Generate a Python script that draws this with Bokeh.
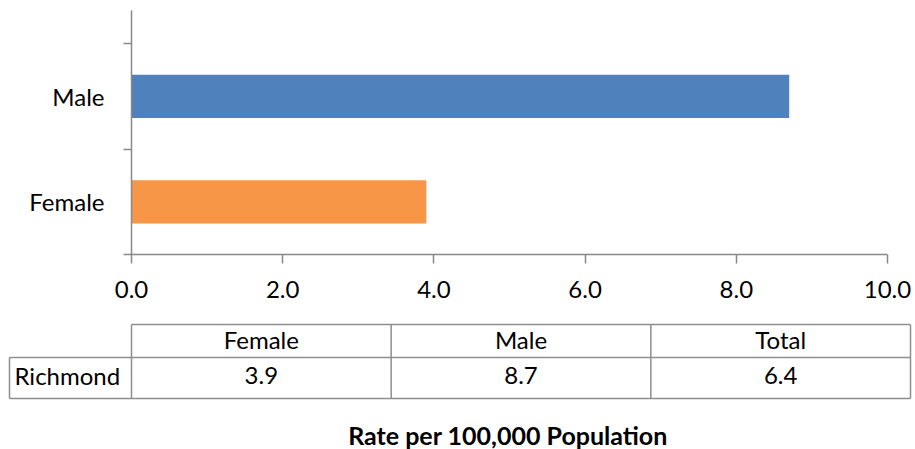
from bokeh.plotting import figure
from bokeh.models import Range1d, FixedTicker, NumeralTickFormatter, ColumnDataSource
from bokeh.layouts import column
from bokeh.embed import file_html
from bokeh.resources import INLINE
from bokeh.core.properties import value

# ---- data ----
categories = ["Female", "Male"]
rates = [3.9, 8.7]
bar_colors = ["#F79646", "#4F81BD"]
x_ticks = [0, 2, 4, 6, 8, 10]
table_columns = ["Female", "Male", "Total"]
table_row_label = "Richmond"
table_values = [3.9, 8.7, 6.4]
axis_title = "Rate per 100,000 Population"

FONT = "Lato"
GRAY = "#898989"
LINE_GRAY = "#8e8e8e"

# ---- bar chart ----
ypos = list(range(len(categories)))
src = ColumnDataSource(dict(y=ypos, right=rates, color=bar_colors))

p = figure(width=915, height=310, x_range=Range1d(0, 10), y_range=Range1d(-0.5, 1.813),
           output_backend="svg", toolbar_location=None,
           min_border_left=131, min_border_right=28, min_border_top=10, min_border_bottom=56)
p.hbar(y="y", left=0, right="right", height=0.41, color="color", line_color=None, source=src)

p.xgrid.visible = False
p.ygrid.visible = False
p.outline_line_color = None
p.background_fill_color = "white"
p.border_fill_color = "white"

p.axis.axis_line_color = GRAY
p.axis.axis_line_width = 1.5
p.axis.major_label_text_font = FONT
p.axis.major_label_text_font_size = "24px"
p.axis.major_label_text_color = "black"

p.xaxis.ticker = FixedTicker(ticks=x_ticks)
p.xaxis.formatter = NumeralTickFormatter(format="0.0")
p.xaxis.major_tick_out = 9
p.xaxis.major_tick_in = 0
p.xaxis.major_tick_line_color = GRAY
p.xaxis.major_tick_line_width = 1.5
p.xaxis.major_label_standoff = 17

p.yaxis.ticker = FixedTicker(ticks=ypos, minor_ticks=[-0.5, 0.5, 1.5])
p.yaxis.major_label_overrides = {i: c for i, c in zip(ypos, categories)}
p.yaxis.major_tick_out = 0
p.yaxis.major_tick_in = 0
p.yaxis.minor_tick_out = 8
p.yaxis.minor_tick_in = 0
p.yaxis.minor_tick_line_color = GRAY
p.yaxis.minor_tick_line_width = 1.5
p.yaxis.major_label_standoff = 19

# ---- data table below ----
t = figure(width=915, height=139, x_range=Range1d(0, 915), y_range=Range1d(139, 0),
           output_backend="svg", toolbar_location=None,
           x_axis_location=None, y_axis_location=None,
           min_border_left=0, min_border_right=0, min_border_top=0, min_border_bottom=0)
t.xgrid.visible = False
t.ygrid.visible = False
t.outline_line_color = None
t.background_fill_color = "white"
t.border_fill_color = "white"

label_left, data_left, right = 9, 131, 910
head_top, row_top, row_bottom = 14, 47, 88
ncol = len(table_columns)
colw = (right - data_left) / ncol
edges = [data_left + i * colw for i in range(ncol + 1)]

x0 = [data_left, label_left, label_left, label_left] + edges
x1 = [right, right, right, label_left] + edges
y0 = [head_top, row_top, row_bottom, row_top] + [head_top] * (ncol + 1)
y1 = [head_top, row_top, row_bottom, row_bottom] + [row_bottom] * (ncol + 1)
t.segment(x0=x0, y0=y0, x1=x1, y1=y1, line_color=LINE_GRAY, line_width=1.5)

centers = [data_left + (i + 0.5) * colw for i in range(ncol)]
t.text(x=centers, y=[28.5] * ncol, text=table_columns, text_align="center",
       text_baseline="middle", text_font=value(FONT), text_font_size="24px", text_color="black")
t.text(x=centers, y=[65] * ncol, text=[f"{v:.1f}" for v in table_values], text_align="center",
       text_baseline="middle", text_font=value(FONT), text_font_size="24px", text_color="black")
t.text(x=[14], y=[65], text=[table_row_label], text_align="left",
       text_baseline="middle", text_font=value(FONT), text_font_size="24px", text_color="black")
t.text(x=[507.5], y=[124], text=[axis_title], text_align="center",
       text_baseline="middle", text_font=value(FONT), text_font_size="25px",
       text_font_style="bold", text_color="black")

layout = column(p, column(t), spacing=0)
open("out.html", "w").write(file_html(layout, INLINE))
